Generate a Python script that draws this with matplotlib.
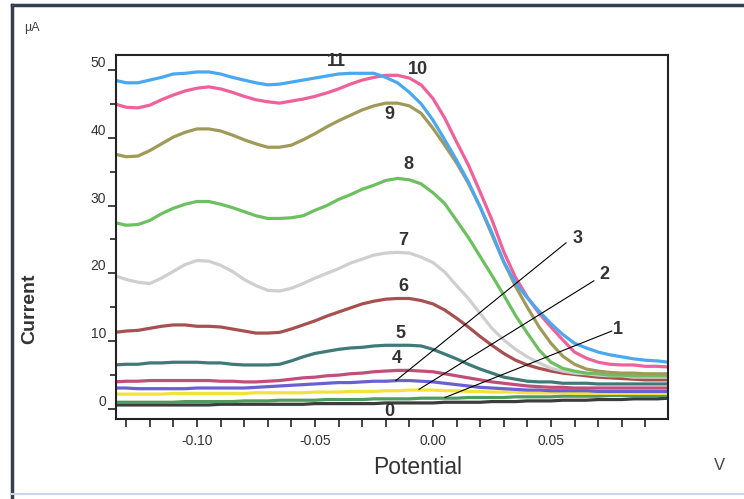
import matplotlib
matplotlib.use("Agg")
import matplotlib.pyplot as plt
from matplotlib.lines import Line2D
from matplotlib.ticker import MultipleLocator

plt.rcParams['font.family'] = ['Liberation Sans', 'DejaVu Sans']

# potential (V), sampled every 5 mV
potencial = [-0.135, -0.130, -0.125, -0.120, -0.115, -0.110, -0.105, -0.100,
             -0.095, -0.090, -0.085, -0.080, -0.075, -0.070, -0.065, -0.060,
             -0.055, -0.050, -0.045, -0.040, -0.035, -0.030, -0.025, -0.020,
             -0.015, -0.010, -0.005, 0.000, 0.005, 0.010, 0.015, 0.020,
             0.025, 0.030, 0.035, 0.040, 0.045, 0.050, 0.055, 0.060,
             0.065, 0.070, 0.075, 0.080, 0.085, 0.090, 0.095, 0.100]

# current (uA) for each curve 0..11
i0 = [0.6, 0.6, 0.6, 0.6, 0.6, 0.6, 0.6, 0.6, 0.6, 0.7, 0.7, 0.7, 0.7, 0.7, 0.7, 0.7,
      0.7, 0.8, 0.8, 0.8, 0.8, 0.8, 0.8, 0.9, 0.9, 0.9, 0.9, 0.9, 1.0, 1.0, 1.0, 1.0,
      1.1, 1.1, 1.1, 1.2, 1.2, 1.2, 1.3, 1.3, 1.3, 1.4, 1.4, 1.4, 1.5, 1.5, 1.5, 1.6]
i1 = [1.0, 1.0, 1.0, 1.0, 1.0, 1.0, 1.1, 1.1, 1.1, 1.1, 1.1, 1.2, 1.2, 1.2, 1.3, 1.3,
      1.3, 1.3, 1.4, 1.4, 1.4, 1.4, 1.5, 1.5, 1.5, 1.5, 1.6, 1.6, 1.6, 1.6, 1.7, 1.7,
      1.7, 1.7, 1.8, 1.8, 1.8, 1.8, 1.9, 1.9, 1.9, 1.9, 2.0, 2.0, 2.0, 2.0, 2.0, 2.0]
i2 = [2.2, 2.2, 2.2, 2.2, 2.2, 2.3, 2.3, 2.3, 2.3, 2.3, 2.3, 2.3, 2.4, 2.4, 2.4, 2.4,
      2.4, 2.5, 2.5, 2.5, 2.6, 2.6, 2.6, 2.7, 2.7, 2.8, 2.8, 2.8, 2.7, 2.7, 2.6, 2.6,
      2.5, 2.5, 2.5, 2.4, 2.4, 2.4, 2.4, 2.3, 2.3, 2.3, 2.3, 2.3, 2.3, 2.3, 2.3, 2.3]
i3 = [3.1, 3.1, 3.0, 3.0, 3.0, 3.0, 3.0, 3.1, 3.1, 3.1, 3.1, 3.1, 3.2, 3.3, 3.4, 3.5,
      3.6, 3.7, 3.8, 3.9, 3.9, 4.0, 4.1, 4.1, 4.2, 4.2, 4.1, 4.0, 3.8, 3.6, 3.4, 3.2,
      3.1, 3.0, 2.9, 2.8, 2.8, 2.7, 2.7, 2.7, 2.7, 2.6, 2.6, 2.6, 2.6, 2.6, 2.6, 2.6]
i4 = [4.0, 4.1, 4.1, 4.2, 4.2, 4.2, 4.2, 4.2, 4.2, 4.1, 4.1, 4.0, 4.0, 4.1, 4.2, 4.4,
      4.6, 4.7, 4.9, 5.0, 5.2, 5.3, 5.5, 5.6, 5.7, 5.7, 5.6, 5.5, 5.2, 4.9, 4.6, 4.3,
      4.0, 3.8, 3.6, 3.4, 3.3, 3.2, 3.2, 3.1, 3.1, 3.1, 3.1, 3.1, 3.1, 3.1, 3.1, 3.1]
i5 = [6.5, 6.6, 6.6, 6.8, 6.8, 6.9, 6.9, 6.9, 6.8, 6.8, 6.6, 6.5, 6.5, 6.5, 6.6, 7.1,
      7.7, 8.2, 8.5, 8.8, 9.0, 9.1, 9.3, 9.4, 9.4, 9.4, 9.3, 8.8, 8.1, 7.4, 6.6, 5.9,
      5.3, 4.7, 4.4, 4.1, 4.0, 4.0, 3.8, 3.8, 3.8, 3.7, 3.7, 3.7, 3.7, 3.7, 3.7, 3.7]
i6 = [11.3, 11.5, 11.6, 11.9, 12.2, 12.4, 12.4, 12.2, 12.2, 12.1, 11.8, 11.5, 11.2, 11.2, 11.3, 11.8,
      12.4, 13.0, 13.7, 14.3, 14.9, 15.5, 15.9, 16.2, 16.3, 16.3, 16.0, 15.5, 14.6, 13.4, 12.1, 10.7,
      9.4, 8.2, 7.2, 6.5, 6.0, 5.6, 5.3, 5.1, 4.9, 4.7, 4.6, 4.5, 4.4, 4.3, 4.3, 4.3]
i7 = [19.7, 19.1, 18.7, 18.5, 19.3, 20.3, 21.3, 21.9, 21.8, 21.2, 20.3, 19.1, 18.2, 17.5, 17.4, 17.8,
      18.5, 19.3, 20.0, 20.7, 21.5, 22.1, 22.7, 23.0, 23.1, 23.0, 22.4, 21.6, 20.2, 18.2, 16.3, 14.1,
      11.9, 10.2, 8.8, 7.7, 6.8, 6.0, 5.6, 5.3, 5.2, 5.0, 4.9, 4.9, 4.7, 4.7, 4.7, 4.7]
i8 = [27.5, 27.1, 27.2, 27.8, 28.8, 29.6, 30.2, 30.6, 30.6, 30.2, 29.7, 29.1, 28.5, 28.1, 28.1, 28.2,
      28.5, 29.3, 30.0, 30.9, 31.6, 32.4, 33.0, 33.7, 34.0, 33.8, 33.2, 31.9, 30.3, 27.8, 25.3, 22.5,
      19.7, 16.8, 13.8, 11.2, 8.7, 6.9, 6.0, 5.6, 5.3, 5.2, 5.0, 5.0, 4.9, 4.9, 4.9, 4.9]
i9 = [37.6, 37.2, 37.3, 38.1, 39.1, 40.1, 40.8, 41.3, 41.3, 41.0, 40.4, 39.7, 39.1, 38.6, 38.6, 38.9,
      39.7, 40.6, 41.6, 42.5, 43.3, 44.1, 44.7, 45.1, 45.1, 44.7, 43.6, 41.4, 38.9, 36.3, 33.3, 29.8,
      25.7, 21.7, 18.1, 15.0, 12.1, 9.7, 7.8, 6.6, 5.9, 5.6, 5.4, 5.3, 5.3, 5.2, 5.2, 5.2]
i10 = [45.0, 44.5, 44.4, 44.8, 45.6, 46.3, 46.9, 47.3, 47.5, 47.2, 46.7, 46.1, 45.6, 45.3, 45.1, 45.4,
       45.7, 46.1, 46.6, 47.2, 47.9, 48.5, 48.9, 49.2, 49.2, 48.8, 47.8, 45.8, 42.9, 39.4, 36.0, 32.0,
       27.9, 23.2, 19.4, 16.5, 14.1, 12.1, 10.2, 8.4, 7.5, 6.9, 6.6, 6.5, 6.5, 6.3, 6.3, 6.2]
i11 = [48.5, 48.1, 48.1, 48.5, 48.9, 49.4, 49.5, 49.7, 49.7, 49.4, 48.9, 48.5, 48.1, 47.8, 47.9, 48.2,
       48.5, 48.8, 49.1, 49.4, 49.5, 49.5, 49.5, 48.9, 48.1, 46.7, 45.0, 42.6, 39.7, 36.7, 33.5, 29.8,
       26.0, 21.7, 18.6, 16.4, 14.4, 12.6, 11.0, 9.7, 9.0, 8.4, 8.0, 7.7, 7.4, 7.2, 7.1, 6.9]

corrientes = [i0, i1, i2, i3, i4, i5, i6, i7, i8, i9, i10, i11]
colores = ['#3c3c3c', '#4f9a5e', '#f2e23a', '#6a60d0', '#c04e78', '#3f7a78',
           '#a85050', '#cfcfcf', '#6cc060', '#a09a58', '#f0609a', '#4aa8f0']

# curve numbers: (text, x, y)
etiquetas = [('11', -0.0407, 51.2), ('10', -0.0064, 50.0), ('9', -0.0186, 43.4),
             ('8', -0.0106, 36.0), ('7', -0.0127, 24.8), ('6', -0.0127, 18.0),
             ('5', -0.0136, 11.2), ('4', -0.0153, 7.5), ('3', 0.0614, 25.2),
             ('2', 0.0725, 19.9), ('1', 0.0784, 11.7), ('0', -0.0186, -0.4)]
# leader lines for 1-3: (x0, y0, x1, y1)
guias = [(0.0564, 24.5, -0.0157, 4.2), (0.0682, 18.9, -0.0059, 2.9),
         (0.0758, 11.5, 0.0051, 1.7)]

fig = plt.figure(figsize=(7.44, 4.99), dpi=100)
ax = fig.add_axes([0.1559, 0.1603, 0.7419, 0.7295])

for y, c in zip(corrientes, colores):
    ax.plot(potencial, y, color=c, lw=2.3, solid_capstyle='butt')

for x0, y0, x1, y1 in guias:
    ax.plot([x0, x1], [y0, y1], color='black', lw=0.8)

for t, x, y in etiquetas:
    ax.text(x, y, t, fontsize=13, fontweight='bold', color='#333333',
            ha='center', va='center')

ax.set_xlim(-0.1343, 0.0996)
ax.set_ylim(-1.47, 52.2)
ax.xaxis.set_major_locator(MultipleLocator(0.05))
ax.xaxis.set_minor_locator(MultipleLocator(0.01))
ax.yaxis.set_major_locator(MultipleLocator(10))
ax.yaxis.set_minor_locator(MultipleLocator(5))
ax.xaxis.set_major_formatter(plt.FuncFormatter(lambda v, p: '%.2f' % v))
ax.tick_params(which='both', direction='out', width=1.2, color='#222222',
               labelsize=10, labelcolor='#333333')
ax.tick_params(which='major', length=6, pad=5)
ax.tick_params(axis='x', which='minor', length=6)
ax.tick_params(axis='y', which='minor', length=4)
ax.tick_params(axis='y', which='major', pad=1)
for lab in ax.get_yticklabels():
    lab.set_verticalalignment('bottom')
for s in ax.spines.values():
    s.set_linewidth(1.5)
    s.set_color('#222222')

fig.text(24 / 744, 1 - 28 / 499, 'µA', fontsize=9, color='#444444', va='center')
fig.text(30 / 744, 1 - 309 / 499, 'Current', fontsize=14, fontweight='bold',
         color='#333333', rotation=90, ha='center', va='center')
fig.text(418 / 744, 1 - 468 / 499, 'Potential', fontsize=16.5, color='#333333',
         ha='center', va='center')
fig.text(719 / 744, 1 - 466 / 499, 'V', fontsize=12, color='#444444',
         ha='center', va='center')

# window frame
fig.add_artist(Line2D([12 / 744, 1], [1 - 5 / 499] * 2, color='#34404f', lw=2.5))
fig.add_artist(Line2D([12 / 744] * 2, [0, 1 - 5 / 499], color='#34404f', lw=2.5))
fig.add_artist(Line2D([12 / 744, 1], [1 - 494 / 499] * 2, color='#cdd6e6', lw=1.5))

fig.savefig('out.png', dpi=100)
